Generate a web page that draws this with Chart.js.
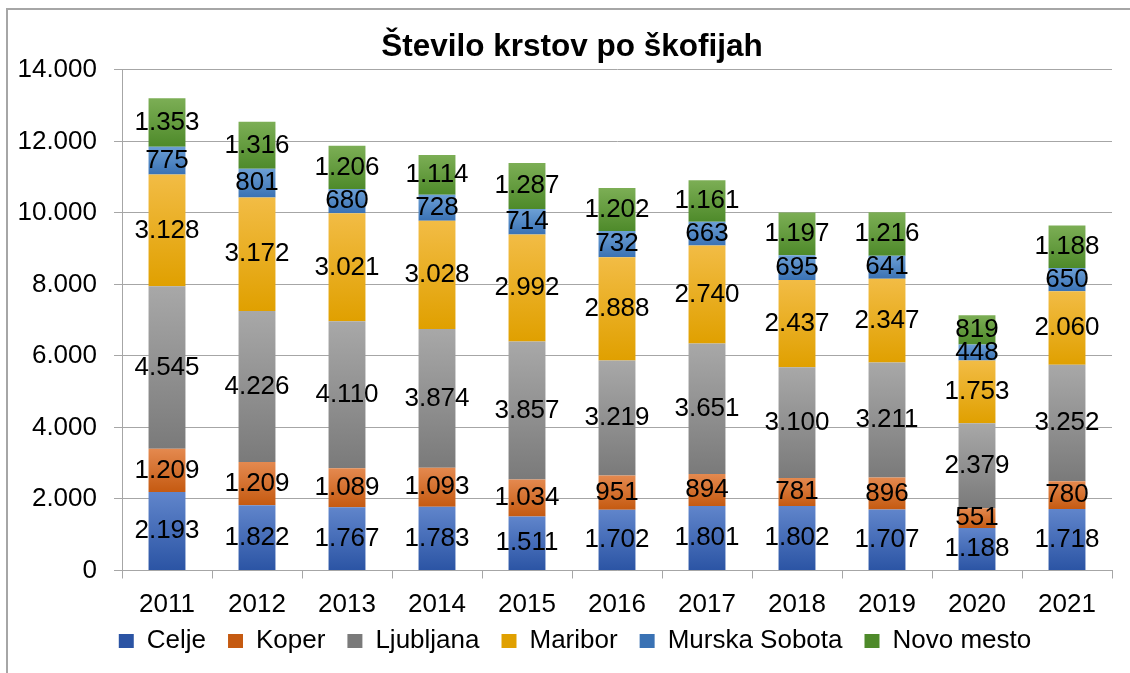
<!DOCTYPE html>
<html>
<head>
<meta charset="utf-8">
<title>Število krstov po škofijah</title>
<script src="https://cdn.jsdelivr.net/npm/chart.js@4.4.1/dist/chart.umd.min.js"></script>
<style>
  html, body { margin: 0; padding: 0; background: #fff; overflow: hidden; }
  #frame {
    position: absolute; left: 6px; top: 8px;
    width: 1160px; height: 700px;
    border: 2px solid #a6a6a6; box-sizing: border-box;
  }
  #krstChart { position: absolute; left: 0; top: 0; }
</style>
</head>
<body>
<div id="frame"></div>
<canvas id="krstChart" width="1130" height="673"></canvas>
<script>
// podatki (odčitani z grafa)
const years = ['2011', '2012', '2013', '2014', '2015', '2016', '2017', '2018', '2019', '2020', '2021'];
const dioceses = ['Celje', 'Koper', 'Ljubljana', 'Maribor', 'Murska Sobota', 'Novo mesto'];

const celje        = [2193, 1822, 1767, 1783, 1511, 1702, 1801, 1802, 1707, 1188, 1718];
const koper        = [1209, 1209, 1089, 1093, 1034, 951, 894, 781, 896, 551, 780];
const ljubljana    = [4545, 4226, 4110, 3874, 3857, 3219, 3651, 3100, 3211, 2379, 3252];
const maribor      = [3128, 3172, 3021, 3028, 2992, 2888, 2740, 2437, 2347, 1753, 2060];
const murskaSobota = [775, 801, 680, 728, 714, 732, 663, 695, 641, 448, 650];
const novoMesto    = [1353, 1316, 1206, 1114, 1287, 1202, 1161, 1197, 1216, 819, 1188];

const yTicks = [0, 2000, 4000, 6000, 8000, 10000, 12000, 14000];

const seriesValues = [celje, koper, ljubljana, maribor, murskaSobota, novoMesto];

// [top, bottom, legend] - Excel-like vertical gradient
const shades = [
  ['#6085cb', '#2b54a4', '#4169b8'],
  ['#e4894f', '#c55a11', '#d7722e'],
  ['#a8a8a8', '#7a7a7a', '#929292'],
  ['#f2bc45', '#e0a000', '#ebb020'],
  ['#6c9fd5', '#3a72b4', '#5088c6'],
  ['#7cae55', '#4e8a2a', '#66a03f']
];

const fmt = n => String(n).replace(/\B(?=(\d{3})+(?!\d))/g, '.');

Chart.defaults.font.family = '"Liberation Sans", Arial, sans-serif';
Chart.defaults.color = '#000';

function segmentFill(ds) {
  return function(ctx) {
    const chart = ctx.chart;
    const yScale = chart.scales && chart.scales.y;
    if (ctx.type !== 'data' || !yScale) return shades[ds][2];
    const i = ctx.dataIndex;
    let base = 0;
    for (let k = 0; k < ds; k++) base += seriesValues[k][i];
    const top = base + seriesValues[ds][i];
    const y0 = yScale.getPixelForValue(top);
    const y1 = yScale.getPixelForValue(base);
    if (!isFinite(y0) || !isFinite(y1) || y0 === y1) return shades[ds][2];
    const g = chart.ctx.createLinearGradient(0, y0, 0, y1);
    g.addColorStop(0, shades[ds][0]);
    g.addColorStop(1, shades[ds][1]);
    return g;
  };
}

// vrednosti na sredini segmentov
const valueLabels = {
  id: 'valueLabels',
  afterDatasetsDraw(chart) {
    const c = chart.ctx;
    c.save();
    c.font = '26px "Liberation Sans", Arial, sans-serif';
    c.fillStyle = '#000';
    c.textAlign = 'center';
    c.textBaseline = 'middle';
    chart.data.datasets.forEach((ds, di) => {
      chart.getDatasetMeta(di).data.forEach((bar, i) => {
        c.fillText(fmt(ds.data[i]), bar.x, (bar.y + bar.base) / 2);
      });
    });
    c.restore();
  }
};

// naslov in legenda sta v originalu malo desno od sredine
const blockShift = {
  id: 'blockShift',
  afterLayout(chart) {
    chart.titleBlock.left += 8;
    chart.titleBlock.right += 8;
    chart.legend.left += 11;
    chart.legend.right += 11;
  }
};

const datasets = dioceses.map((name, d) => ({
  label: name,
  data: seriesValues[d],
  backgroundColor: segmentFill(d),
  borderWidth: 0,
  categoryPercentage: 1,
  barPercentage: 0.41
}));

new Chart(document.getElementById('krstChart'), {
  type: 'bar',
  data: { labels: years, datasets: datasets },
  options: {
    responsive: false,
    animation: false,
    layout: { padding: { top: 14, left: 16, right: 18, bottom: 9 } },
    plugins: {
      title: {
        display: true,
        text: 'Število krstov po škofijah',
        font: { size: 31.5, weight: 'bold' },
        color: '#000',
        padding: { top: 14, bottom: 4 }
      },
      legend: {
        position: 'bottom',
        labels: {
          boxWidth: 15,
          boxHeight: 14,
          padding: 22,
          font: { size: 26, lineHeight: 1 },
          color: '#000'
        }
      },
      tooltip: { enabled: false }
    },
    scales: {
      x: {
        stacked: true,
        afterFit: scale => { scale.height = 35.5; },
        grid: { drawOnChartArea: false, drawTicks: true, tickLength: 8, color: '#a6a6a6' },
        border: { color: '#a6a6a6' },
        ticks: { mirror: true, font: { size: 26, lineHeight: 0.23 }, padding: -37, color: '#000' }
      },
      y: {
        stacked: true,
        min: 0,
        max: 14000,
        afterFit: scale => { scale.width = 106; },
        afterBuildTicks: scale => { scale.ticks = yTicks.map(v => ({ value: v })); },
        grid: { color: '#a6a6a6', tickLength: 8 },
        border: { color: '#a6a6a6' },
        ticks: { font: { size: 26 }, padding: 17, color: '#000', callback: v => fmt(v) }
      }
    }
  },
  plugins: [valueLabels, blockShift]
});
</script>
</body>
</html>
